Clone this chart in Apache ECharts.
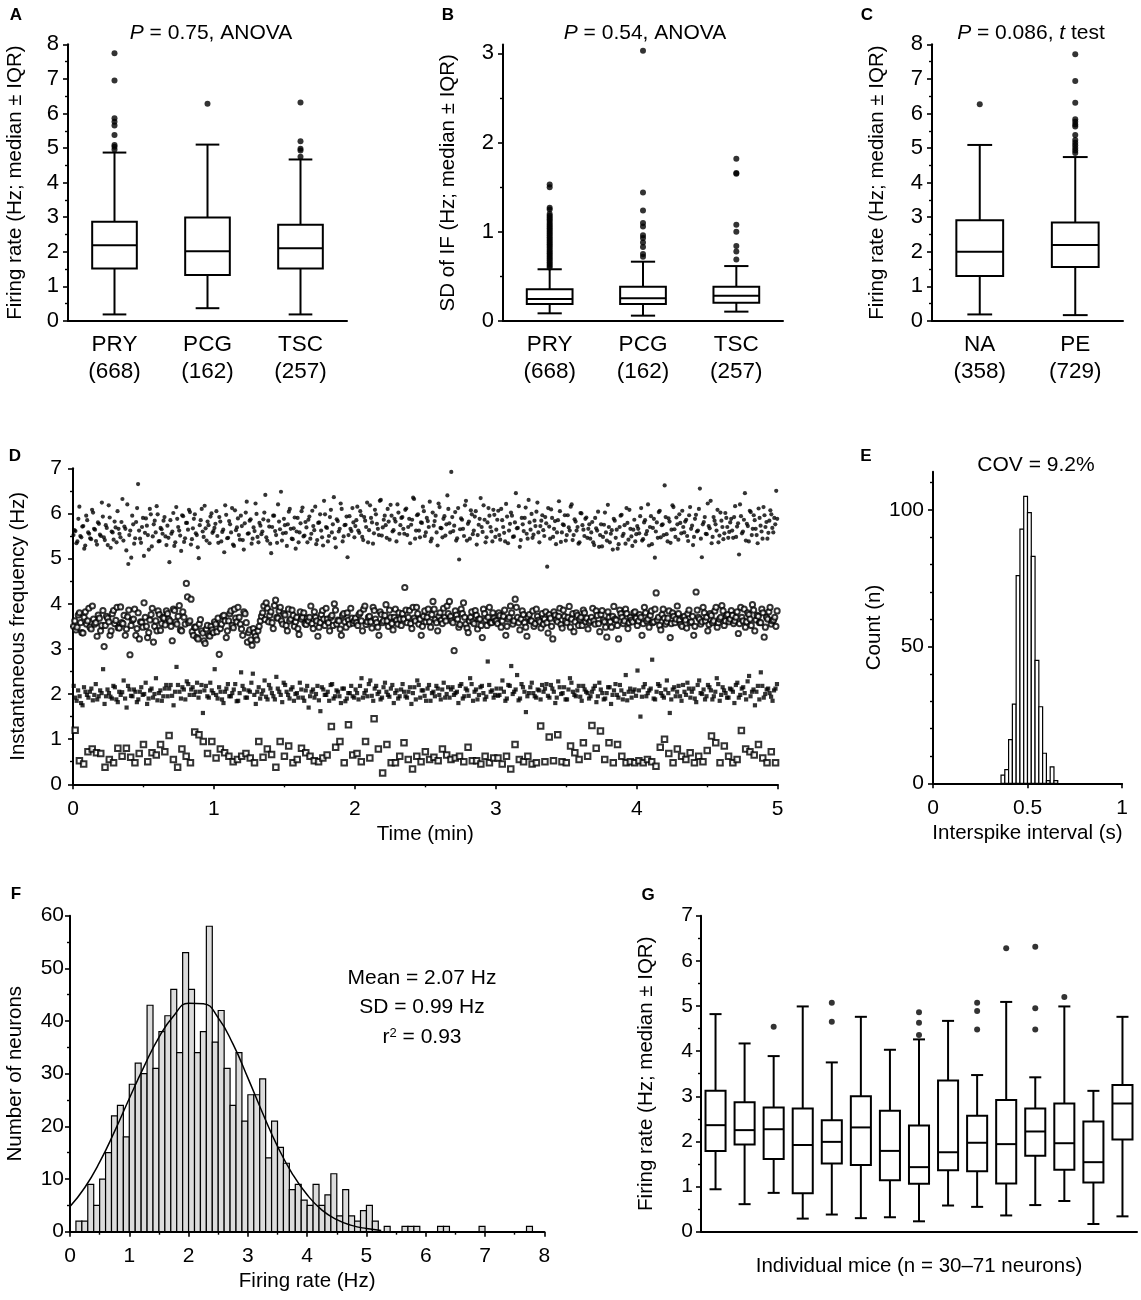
<!DOCTYPE html>
<html>
<head>
<meta charset="utf-8">
<script src="https://cdn.jsdelivr.net/npm/echarts@6.0.0/dist/echarts.min.js"></script>
<style>
  html, body { margin: 0; padding: 0; background: #fff; }
  #main { width: 1141px; height: 1300px; }
</style>
</head>
<body>
<div id="main"></div>
<script>
// ---- data ----

// A: firing rate by region, [min, Q1, median, Q3, max]
var regionCats = ['PRY\n(668)', 'PCG\n(162)', 'TSC\n(257)'];
var regionRate = [[0.19, 1.52, 2.19, 2.87, 4.87], [0.37, 1.33, 2.02, 2.99, 5.10], [0.19, 1.52, 2.10, 2.78, 4.67]];
var regionRateOut = [[7.74, 6.95, 5.86, 5.76, 5.65, 5.38, 5.09, 5.04, 4.96], [6.28], [6.32, 5.20, 4.98, 4.93, 4.75]];

// B: SD of instantaneous frequency by region
var regionSd = [[0.086, 0.19, 0.247, 0.355, 0.58], [0.06, 0.19, 0.254, 0.385, 0.665], [0.105, 0.205, 0.284, 0.385, 0.616]];
var regionSdOut = [
  [0.60, 0.62, 0.64, 0.66, 0.68, 0.70, 0.72, 0.74, 0.76, 0.78, 0.80, 0.82, 0.84, 0.86, 0.88, 0.90, 0.92, 0.94,
   0.96, 0.98, 1.00, 1.02, 1.04, 1.06, 1.08, 1.10, 1.12, 1.14, 1.16, 1.18, 1.20, 1.25, 1.27, 1.50, 1.53],
  [3.03, 1.44, 1.24, 1.10, 1.06, 0.96, 0.93, 0.88, 0.83, 0.75, 0.72],
  [1.82, 1.66, 1.65, 1.08, 1.00, 0.84, 0.78, 0.69]
];

// C: firing rate NA vs PE
var groupCats = ['NA\n(358)', 'PE\n(729)'];
var groupRate = [[0.19, 1.30, 2.00, 2.91, 5.09], [0.17, 1.56, 2.20, 2.85, 4.74]];
var groupRateOut = [[6.27], [7.71, 6.94, 6.31, 5.83, 5.76, 5.68, 5.62, 5.38, 5.23, 5.15, 5.08, 5.00, 4.93, 4.86]];

// D: instantaneous frequency (Hz) of four example neurons over a 5-min recording.
// The "A"/"B" arrays are alternate spikes of the same neuron.
var recordMinutes = 5;
var ifFilledCircleA = [
  5.52,5.61,5.38,6.15,5.47,5.72,5.29,5.85,5.55,5.43,6.02,5.64,5.31,5.77,5.50,5.93,5.41,5.68,6.18,5.24,5.58,5.82,5.36,5.66,
  5.47,6.32,5.71,5.18,4.88,5.62,5.95,5.33,5.81,6.65,5.44,5.70,5.06,5.89,5.52,6.10,5.27,5.76,5.58,5.98,5.39,5.65,5.84,5.49,
  5.73,4.92,5.55,6.01,5.36,5.88,5.62,5.17,5.94,5.45,5.79,6.08,5.31,5.67,5.98,5.52,5.01,5.85,5.60,6.17,5.40,5.74,5.93,5.57,
  5.68,6.05,5.35,5.82,5.59,5.14,5.97,5.46,5.76,6.12,5.28,5.63,5.89,5.42,5.72,5.20,6.02,5.55,5.84,5.33,5.69,6.22,5.48,5.79,
  5.54,5.87,6.41,5.40,5.71,5.12,5.95,5.61,5.35,5.82,6.48,5.56,5.74,5.28,6.04,5.66,5.43,5.91,5.60,5.36,5.78,6.13,5.51,5.69,
  5.86,5.44,6.06,5.63,5.32,5.79,5.98,5.47,6.28,5.70,5.38,5.92,5.58,6.36,5.25,5.83,5.66,6.10,5.49,5.75,5.03,5.94,5.61,5.80,
  5.72,6.15,5.57,5.96,5.41,5.84,6.24,5.63,5.90,5.33,6.08,5.77,5.52,6.30,5.69,5.95,5.46,5.82,6.19,5.60,5.88,5.38,6.02,5.74,
  5.92,5.55,6.11,5.70,5.34,5.86,6.32,5.62,5.98,5.47,5.79,6.05,5.58,5.83,6.26,5.44,5.73,5.95,5.29,6.14,5.67,5.88,5.51,6.40,
  5.78,6.92,5.61,6.03,5.45,4.98,5.89,5.66,6.18,5.40,5.82,6.07,5.54,5.93,5.31,5.75,6.34,5.59,5.86,5.47,6.12,5.70,5.38,5.97,
  5.64,6.06,5.42,5.85,5.57,6.21,5.34,5.77,5.95,5.49,6.45,5.68,5.26,5.90,5.61,6.13,5.44,5.80,5.99,5.53,5.72,6.24,5.36,5.84,
  5.63,5.92,4.82,5.71,6.09,5.48,5.83,5.58,6.27,5.37,5.76,5.96,5.52,5.69,6.15,5.41,5.87,5.62,5.33,6.01,5.74,5.50,5.91,5.66,
  5.44,5.81,5.30,5.67,6.04,5.52,5.27,5.75,5.58,6.19,5.36,5.63,5.88,5.46,5.22,5.70,5.97,5.55,5.33,5.79,6.08,5.49,5.64,5.38,
  5.72,5.56,6.12,5.43,5.85,5.61,5.29,5.94,5.68,5.02,5.80,6.03,5.47,5.76,6.62,5.54,5.89,5.35,6.18,5.65,5.91,5.42,5.79,6.06,
  5.58,5.86,5.39,6.14,5.73,5.48,5.97,5.62,6.55,5.03,5.81,5.55,6.22,5.67,5.34,5.92,5.76,6.08,5.51,5.84,5.43,6.01,5.70,5.59,
  5.88,5.46,6.16,5.71,5.09,5.94,5.60,6.45,5.77,5.38,6.03,5.66,5.85,5.52,6.11,5.73,5.44,5.96,5.81,5.57,6.07,5.68,5.90,6.50
];
var ifFilledCircleB = [
  5.63,5.34,5.88,5.50,5.71,5.22,5.95,5.58,5.45,6.08,5.66,5.39,5.80,5.53,6.24,5.47,5.74,5.30,5.91,5.60,5.42,5.69,6.05,5.55,
  5.81,5.40,5.66,6.20,5.52,5.02,5.76,5.45,6.12,5.62,5.35,5.90,5.57,5.73,5.20,5.98,5.49,5.84,6.16,5.38,5.68,5.55,5.92,5.30,
  5.46,5.85,5.60,5.28,6.14,5.70,5.51,5.96,5.37,5.79,5.64,6.03,5.43,5.88,5.56,5.25,5.74,6.10,5.48,5.67,5.82,5.34,6.00,5.61,
  5.77,5.50,5.92,5.38,5.64,6.18,5.45,5.83,5.58,5.31,6.07,5.69,5.52,5.95,5.41,5.78,6.26,5.56,5.87,5.44,5.61,5.99,5.36,5.73,
  5.60,6.02,5.47,5.84,5.33,5.70,5.95,5.52,6.20,5.65,5.40,5.88,5.57,5.76,6.10,5.44,5.67,5.22,5.90,5.58,6.05,5.49,5.81,5.36,
  5.93,5.55,5.72,6.15,5.41,5.80,5.62,5.29,5.98,5.68,5.50,6.08,5.76,5.45,5.87,5.60,6.22,5.38,5.74,5.93,5.52,5.66,6.12,5.47,
  5.85,5.62,6.05,5.48,5.92,5.70,5.36,6.18,5.80,5.56,5.98,5.66,6.28,5.51,5.86,5.74,6.10,5.42,5.95,5.63,5.82,6.20,5.55,5.90,
  5.66,6.08,5.52,5.88,5.75,6.35,5.44,5.96,5.62,5.80,6.15,5.50,5.90,5.70,5.38,6.02,5.83,5.58,6.22,5.68,5.47,5.94,5.76,6.10,
  5.58,5.92,5.73,5.40,6.12,5.65,5.86,5.50,6.28,5.77,5.44,5.98,5.62,6.05,5.52,5.88,5.70,6.18,5.36,5.80,5.95,5.60,6.08,5.48,
  5.86,5.52,6.10,5.70,5.38,5.93,5.62,6.02,5.48,5.80,5.67,6.16,5.41,5.76,5.90,5.55,6.30,5.64,5.46,5.84,6.04,5.58,5.72,5.96,
  5.50,5.78,6.12,5.44,5.90,5.66,5.32,5.85,6.05,5.58,5.74,5.40,5.96,5.62,6.20,5.52,5.82,5.70,5.36,6.00,5.64,5.88,5.46,5.76,
  5.58,5.36,5.90,5.62,5.26,5.76,5.48,6.02,5.40,5.70,5.55,5.20,5.84,5.64,5.32,5.95,5.50,5.74,6.12,5.42,5.66,5.28,5.86,5.54,
  5.66,5.94,5.40,5.80,5.54,6.20,5.70,5.32,5.88,5.60,5.46,6.06,5.74,5.52,5.92,5.38,5.82,5.64,6.14,5.48,5.76,5.98,5.56,5.70,
  5.82,5.50,5.96,5.66,5.30,5.88,5.60,6.10,5.44,5.76,5.92,5.54,5.72,6.28,5.48,5.84,5.62,5.36,6.02,5.70,5.56,5.90,5.46,5.80,
  5.62,5.92,5.48,5.78,6.20,5.56,5.86,5.40,5.72,6.06,5.52,5.96,5.66,5.34,5.90,5.60,6.14,5.70,5.44,5.84,5.98,5.58,5.76,5.88
];
var ifOpenCircleA = [
  3.50,3.42,3.75,3.58,3.35,3.82,3.62,3.48,3.95,3.55,3.28,3.68,3.52,3.05,3.72,3.60,3.40,3.85,3.63,3.47,
  3.93,3.56,3.30,3.71,2.87,3.64,3.88,3.45,3.22,3.59,4.02,3.50,3.36,3.76,3.15,3.62,3.84,3.41,3.70,3.53,
  3.78,3.62,3.18,3.85,3.55,3.96,3.40,3.70,4.45,3.58,4.10,3.30,3.48,3.22,3.65,3.35,3.12,3.52,3.28,3.42,
  3.60,3.38,2.88,3.55,3.74,3.25,3.62,3.84,3.47,3.68,3.92,3.55,3.30,3.78,3.15,3.42,3.08,3.36,3.20,3.50,
  3.72,3.95,4.02,3.60,3.82,3.45,4.08,3.68,3.92,3.55,3.75,3.40,3.62,3.86,3.50,3.70,3.32,3.66,3.80,3.54,
  3.62,3.95,3.45,3.70,3.28,3.58,3.85,3.52,3.66,3.40,3.74,4.00,3.55,3.62,3.30,3.78,3.48,3.64,3.90,3.57,
  3.68,3.52,3.80,3.40,3.95,3.60,3.72,3.46,3.85,3.58,3.30,3.76,3.62,3.98,3.50,3.70,3.42,3.88,3.55,3.66,
  3.78,4.36,3.58,3.85,3.45,3.68,3.92,3.55,3.30,3.72,3.60,3.88,3.48,4.05,3.65,3.40,3.80,3.56,3.70,3.95,
  4.05,3.62,2.96,3.75,3.48,3.88,4.02,3.55,3.36,3.70,3.60,3.85,3.44,3.66,3.25,3.78,3.52,3.92,3.58,3.68,
  3.62,3.80,3.48,3.72,3.30,3.66,3.95,3.55,4.10,3.70,3.42,3.84,3.58,3.28,3.76,3.62,3.50,3.88,3.64,3.46,
  3.55,3.82,3.35,3.68,3.22,3.75,3.60,3.90,3.46,3.72,3.58,3.94,3.66,3.38,3.80,3.52,3.70,3.86,3.60,3.44,
  3.62,3.90,3.55,3.74,3.38,3.85,3.60,3.26,3.70,3.48,3.94,3.64,3.22,3.78,3.56,3.88,3.45,3.70,3.60,3.82,
  3.52,3.76,3.30,3.92,3.62,3.48,3.84,3.60,4.24,3.70,3.42,3.88,3.55,3.68,3.25,3.80,3.58,3.95,3.64,3.50,
  3.72,3.46,3.86,3.60,3.30,4.26,3.70,3.55,3.92,3.62,3.40,3.78,3.58,3.84,3.48,3.66,3.96,3.52,3.74,3.60,
  3.85,3.56,3.70,3.34,3.92,3.62,3.48,3.80,3.66,3.98,3.40,3.74,3.58,3.88,3.26,3.70,3.82,3.55,3.64,3.50
];
var ifOpenCircleB = [
  3.62,3.48,3.80,3.36,3.70,3.55,3.90,3.44,3.66,3.58,3.75,3.40,3.85,3.52,3.68,3.30,3.78,3.56,3.92,3.46,
  3.58,3.74,3.44,3.86,3.52,3.66,3.30,3.80,3.60,3.48,3.70,3.25,3.64,3.90,3.50,3.40,3.76,3.56,3.68,3.84,
  3.66,3.50,3.88,3.60,3.72,3.42,3.82,3.55,4.15,3.62,3.38,3.48,3.25,3.55,3.40,3.18,3.44,3.30,3.50,3.36,
  3.55,3.68,3.45,3.72,3.62,3.40,3.78,3.52,3.88,3.60,3.70,3.44,3.82,3.58,3.36,3.20,3.45,3.28,3.40,3.62,
  3.80,3.65,3.90,3.74,3.58,3.96,3.70,3.84,3.62,3.78,3.52,3.88,3.66,3.74,3.60,3.45,3.82,3.70,3.56,3.68,
  3.70,3.56,3.82,3.62,3.48,3.76,3.66,3.90,3.58,3.70,3.52,3.86,3.64,3.44,3.74,3.60,3.80,3.55,3.68,3.62,
  3.58,3.76,3.62,3.88,3.54,3.70,3.60,3.92,3.66,3.48,3.82,3.58,3.74,3.62,3.86,3.56,3.70,3.64,3.80,3.52,
  3.66,3.86,3.70,3.56,3.92,3.62,3.78,3.66,3.50,3.84,3.70,3.60,3.76,3.88,3.58,3.72,3.64,3.90,3.62,3.78,
  3.72,3.58,3.84,3.66,3.54,3.78,3.70,3.46,3.62,3.82,3.56,3.74,3.66,3.52,3.88,3.64,3.70,3.58,3.80,3.62,
  3.56,3.74,3.62,3.86,3.50,3.70,3.80,3.62,3.92,3.58,3.66,3.76,3.48,3.70,3.62,3.84,3.56,3.72,3.60,3.78,
  3.66,3.58,3.76,3.50,3.82,3.64,3.72,3.54,3.86,3.62,3.70,3.48,3.78,3.60,3.74,3.66,3.52,3.80,3.68,3.58,
  3.70,3.62,3.84,3.56,3.76,3.64,3.48,3.82,3.60,3.72,3.66,3.52,3.86,3.70,3.62,3.78,3.58,3.64,3.80,3.68,
  3.62,3.70,3.56,3.80,3.66,3.74,3.58,3.88,3.64,3.52,3.76,3.68,3.60,3.84,3.56,3.72,3.66,3.78,3.54,3.70,
  3.64,3.78,3.58,3.72,3.50,3.86,3.66,3.60,3.80,3.70,3.54,3.74,3.62,3.92,3.58,3.70,3.84,3.62,3.76,3.66,
  3.74,3.62,3.82,3.56,3.70,3.88,3.60,3.76,3.52,3.86,3.64,3.72,3.58,3.80,3.48,3.66,3.92,3.62,3.70,3.84
];
var ifFilledSquareA = [
  2.18,1.85,1.95,1.75,2.05,1.92,2.12,1.98,1.88,2.08,2.55,1.95,2.02,1.90,2.15,1.82,
  1.98,2.30,1.70,2.10,1.95,2.05,1.88,2.15,2.00,1.78,2.08,1.92,2.35,2.02,1.85,2.12,
  1.95,2.20,1.75,2.60,2.05,2.15,1.88,2.22,2.10,1.98,2.25,2.05,1.58,2.18,1.92,2.08,
  2.55,1.90,2.05,1.80,2.12,1.95,2.02,2.22,1.85,2.48,2.10,1.92,2.05,2.45,1.78,2.15,
  2.00,2.30,1.88,2.12,1.95,2.38,2.05,1.82,2.20,1.98,2.10,1.85,2.02,2.25,1.92,2.08,
  1.70,2.05,1.92,2.18,1.62,2.10,1.98,1.85,2.22,1.95,2.05,1.80,2.12,1.90,2.02,1.95,
  2.10,1.88,2.35,2.02,1.95,2.30,1.85,2.18,2.05,1.92,2.25,1.98,2.12,1.80,2.08,1.95,
  2.22,1.95,2.05,1.78,2.15,2.30,1.92,2.08,1.85,2.20,2.02,1.95,2.12,1.88,2.25,2.00,
  1.92,2.15,2.02,1.80,2.22,1.95,2.08,2.35,1.85,2.10,1.98,2.18,1.88,2.72,2.05,1.92,
  2.12,1.98,2.30,1.85,2.20,2.62,2.05,2.42,1.90,2.15,1.60,2.02,2.25,1.95,2.10,1.88,
  2.05,2.22,1.92,2.12,1.80,2.28,2.00,2.15,1.88,2.35,2.05,1.95,2.18,1.85,2.10,2.02,
  1.95,2.12,1.82,2.25,2.02,1.90,2.15,1.78,2.08,1.98,2.20,1.88,2.42,2.05,1.92,2.10,
  2.52,1.50,2.15,1.95,2.08,2.76,1.88,2.22,2.02,1.92,2.30,1.58,2.10,1.95,2.18,1.85,
  2.05,2.25,1.92,2.12,1.82,2.30,2.00,1.88,2.20,2.08,1.95,2.35,1.85,2.15,2.02,1.92,
  2.10,1.80,2.25,1.98,2.15,1.88,2.40,2.05,1.75,2.18,2.48,1.92,2.10,2.02,1.85,2.12
];
var ifFilledSquareB = [
  1.92,2.08,1.80,2.15,1.98,2.05,1.86,2.22,1.95,2.02,1.78,2.10,1.94,2.18,1.88,2.05,
  2.04,1.90,2.18,1.96,2.10,1.82,2.05,1.98,2.25,1.90,2.12,2.00,1.86,2.08,1.95,2.20,
  2.12,1.96,2.05,2.20,1.90,2.10,2.28,1.98,2.15,2.05,1.92,2.20,2.08,1.95,2.25,2.02,
  1.98,2.15,1.88,2.05,2.22,1.95,2.10,1.84,2.02,2.18,1.92,2.08,2.25,1.98,2.05,1.90,
  2.08,1.94,2.20,2.02,1.88,2.12,1.98,2.25,2.05,1.90,2.15,2.00,1.92,2.10,1.85,2.18,
  1.95,2.10,2.00,1.86,2.15,1.98,2.05,2.20,1.90,2.08,1.95,2.12,1.84,2.02,2.18,1.92,
  2.02,2.18,1.92,2.08,2.22,1.96,2.12,2.00,1.88,2.15,2.05,1.94,2.20,2.02,1.90,2.10,
  2.05,1.92,2.15,2.02,1.88,2.20,2.08,1.96,2.12,1.85,2.05,2.18,1.98,2.10,1.92,2.15,
  2.10,1.98,2.05,2.18,1.90,2.12,1.96,2.22,2.05,1.88,2.15,2.02,1.94,2.20,2.08,1.98,
  1.96,2.12,2.05,1.90,2.18,2.00,2.10,1.86,2.22,2.05,1.95,2.15,2.02,1.92,2.08,2.20,
  2.12,1.96,2.20,2.05,1.92,2.15,2.02,1.88,2.10,2.25,1.98,2.08,1.94,2.18,2.05,1.90,
  2.05,2.18,1.95,2.10,1.88,2.02,2.15,1.98,2.22,1.92,2.08,2.00,1.86,2.12,2.05,1.96,
  2.08,1.94,2.22,2.02,2.12,1.90,2.05,2.18,1.96,2.10,2.02,1.88,2.15,2.05,1.95,2.20,
  1.98,2.12,2.05,1.90,2.20,2.02,2.10,1.95,2.15,1.88,2.05,2.22,1.98,2.08,1.92,2.12,
  2.05,2.20,1.92,2.12,2.02,2.28,1.95,2.10,2.05,1.88,2.18,2.00,2.12,1.94,2.08,2.22
];
var ifOpenSquare = [
  1.20,0.52,0.45,0.72,0.78,0.70,0.68,0.38,0.55,0.48,0.80,
  0.62,0.80,0.60,0.48,0.68,0.88,0.50,0.70,0.65,0.88,0.72,
  1.08,0.55,0.38,0.78,0.62,0.48,1.16,1.10,0.95,0.68,0.95,
  0.58,0.78,0.70,0.62,0.50,0.55,0.62,0.68,0.58,0.48,0.95,
  0.60,0.78,0.66,0.38,0.95,0.62,0.85,0.48,0.55,0.80,0.70,
  0.62,0.52,0.50,0.58,0.65,1.28,0.82,0.95,0.48,1.32,0.65,
  0.68,0.50,0.95,0.58,1.45,0.78,0.25,0.88,0.48,0.48,0.62,
  0.92,0.55,0.34,0.62,0.50,0.72,0.55,0.60,0.52,0.78,0.65,
  0.55,0.58,0.62,0.50,0.82,0.52,0.52,0.45,0.62,0.48,0.58,
  0.58,0.45,0.62,0.34,0.88,0.55,0.50,0.62,0.45,0.48,1.29,
  0.50,1.05,0.52,1.10,0.50,0.48,0.85,0.70,0.55,0.92,0.62,
  1.30,0.80,1.18,0.55,0.92,0.48,0.88,0.62,0.48,0.50,0.48,
  0.52,0.48,0.55,0.50,0.40,0.82,1.00,0.68,0.48,0.78,0.62,
  0.55,0.70,0.48,0.62,0.50,0.75,1.07,0.92,0.48,0.85,0.62,
  0.48,0.55,1.19,0.78,0.72,0.65,0.88,0.58,0.48,0.72,0.48
];

// E: interspike interval histogram
var isiBinStart = 0.36;
var isiBinWidth = 0.02;
var isiCounts = [3, 5, 16, 29, 76, 93, 105, 99, 83, 45, 28, 11, 1, 6, 1];

// F: firing rate histogram with Gaussian fit
var rateBinStart = 0;
var rateBinWidth = 0.1;
var rateCounts = [
  0, 2, 2, 9, 5, 10, 15, 22, 24, 18,
  28, 32, 30, 43, 31, 38, 41, 46, 34, 53,
  46, 34, 38, 58, 36, 42, 31, 24, 34, 21,
  26, 26, 29, 14, 21, 16, 13, 8, 9, 6,
  5, 9, 5, 7, 11, 3, 8, 3, 2, 4,
  5, 2, 0, 1, 0, 0, 1, 1, 1, 0,
  0, 0, 1, 1, 0, 0, 0, 0, 0, 1,
  0, 0, 0, 0, 0, 0, 0, 1, 0, 0
];
var fitX = [0, 0.25, 0.5, 0.75, 1, 1.25, 1.5, 1.75, 2, 2.25, 2.5, 2.75, 3, 3.25, 3.5, 3.75, 4, 4.25, 4.5, 4.75, 5, 5.25];
var fitY = [4.8, 8.4, 13.2, 19.0, 25.3, 31.4, 36.9, 41.0, 43.4, 43.3, 40.6, 35.6, 29.2, 22.5, 16.2, 11.0, 7.0, 4.1, 2.3, 1.2, 0.6, 0.25];

// G: firing rate per mouse
var miceRate = [
  [0.94, 1.79, 2.36, 3.12, 4.82], [0.61, 1.93, 2.25, 2.87, 4.17], [0.86, 1.61, 2.27, 2.75, 3.89],
  [0.29, 0.85, 1.92, 2.73, 4.99], [0.38, 1.51, 1.99, 2.47, 3.75], [0.30, 1.48, 2.31, 3.00, 4.76],
  [0.32, 1.14, 1.79, 2.68, 4.03], [0.23, 1.06, 1.43, 2.35, 4.26], [0.58, 1.36, 1.76, 3.35, 4.67],
  [0.55, 1.34, 1.97, 2.57, 3.47], [0.36, 1.07, 1.94, 2.92, 5.09], [0.59, 1.68, 2.22, 2.73, 3.42],
  [0.68, 1.37, 1.96, 2.84, 4.99], [0.17, 1.09, 1.54, 2.44, 3.12], [0.34, 2.04, 2.84, 3.25, 4.76]
];
var miceRateOut = [[], [], [4.54], [], [5.07, 4.65], [], [], [4.86, 4.63, 4.36], [], [5.07, 4.89, 4.48],
  [6.28], [6.31, 4.95, 4.48], [5.20], [], []];
var miceCats = miceRate.map(function (d, i) { return 'M' + (i + 1); });

// tick values for the two axes whose top is not a round number
var sdTicks = [0, 1, 2, 3];
var sdMinorTicks = [0.5, 1.5, 2.5];
var countTicks = [0, 50, 100];
var countMinorTicks = [10, 20, 30, 40, 60, 70, 80, 90, 110];

// ---- chart ----
var FONT = '"Liberation Sans", Arial, sans-serif';
var BLACK = '#000';
var TICK_FONT = 21;

var chart = echarts.init(document.getElementById('main'), null, { renderer: 'canvas' });

function axisBase(gridIndex) {
  return {
    gridIndex: gridIndex,
    axisLine: { show: true, lineStyle: { color: BLACK, width: 2 } },
    axisTick: { show: true, length: 5, lineStyle: { color: BLACK, width: 1.6 } },
    axisLabel: { color: BLACK, fontFamily: FONT, fontSize: TICK_FONT, margin: 9 },
    splitLine: { show: false },
    nameLocation: 'middle',
    nameTextStyle: { color: BLACK, fontFamily: FONT, fontSize: 20.5 }
  };
}

function valueAxis(gridIndex, min, max, interval, name, nameGap, labelMargin, labelSize) {
  var a = axisBase(gridIndex);
  a.type = 'value';
  a.min = min;
  a.max = max;
  if (interval) a.interval = interval;
  a.minorTick = { show: true, splitNumber: 2, length: 3, lineStyle: { color: BLACK, width: 1.4 } };
  if (name) { a.name = name; a.nameGap = nameGap; }
  if (labelMargin !== undefined) a.axisLabel.margin = labelMargin;
  if (labelSize) a.axisLabel.fontSize = labelSize;
  return a;
}

function categoryAxis(gridIndex, cats) {
  var a = axisBase(gridIndex);
  a.type = 'category';
  a.data = cats;
  a.axisTick = { show: false };
  a.axisLabel = { color: BLACK, fontFamily: FONT, fontSize: 22.5, lineHeight: 27, margin: 10, interval: 0 };
  return a;
}

function minorOnlyAxis(gridIndex, min, max, values) {
  return {
    type: 'value', gridIndex: gridIndex, min: min, max: max, position: 'left',
    axisLine: { show: false }, axisLabel: { show: false }, splitLine: { show: false },
    axisTick: { show: true, length: 3, customValues: values, lineStyle: { color: BLACK, width: 1.4 } }
  };
}

function boxRenderer(boxRatio, capRatio) {
  return function (params, api) {
    var i = api.value(0);
    var half = api.size([1, 0])[0] * boxRatio / 2;
    var cap = half * capRatio;
    var cx = api.coord([i, 0])[0];
    var y = [1, 2, 3, 4, 5].map(function (d) { return api.coord([i, api.value(d)])[1]; });
    var ls = { stroke: BLACK, lineWidth: 2 };
    return {
      type: 'group',
      children: [
        { type: 'line', shape: { x1: cx, y1: y[4], x2: cx, y2: y[3] }, style: ls },
        { type: 'line', shape: { x1: cx, y1: y[1], x2: cx, y2: y[0] }, style: ls },
        { type: 'line', shape: { x1: cx - cap, y1: y[4], x2: cx + cap, y2: y[4] }, style: ls },
        { type: 'line', shape: { x1: cx - cap, y1: y[0], x2: cx + cap, y2: y[0] }, style: ls },
        { type: 'rect', shape: { x: cx - half, y: y[3], width: 2 * half, height: y[1] - y[3] },
          style: { fill: '#fff', stroke: BLACK, lineWidth: 2 } },
        { type: 'line', shape: { x1: cx - half, y1: y[2], x2: cx + half, y2: y[2] }, style: ls }
      ]
    };
  };
}

function boxSeries(axisIdx, stats, boxRatio, capRatio) {
  return {
    type: 'custom', xAxisIndex: axisIdx, yAxisIndex: axisIdx, silent: true, z: 2,
    renderItem: boxRenderer(boxRatio, capRatio),
    encode: { x: 0, y: [1, 2, 3, 4, 5] },
    data: stats.map(function (s, i) { return [i].concat(s); })
  };
}

function outlierSeries(axisIdx, outliers, size) {
  var pts = [];
  outliers.forEach(function (list, i) { list.forEach(function (v) { pts.push([i, v]); }); });
  return {
    type: 'scatter', xAxisIndex: axisIdx, yAxisIndex: axisIdx, silent: true, z: 3,
    symbol: 'circle', symbolSize: size, itemStyle: { color: BLACK }, data: pts
  };
}

// merge alternate spikes back into one time-ordered train
function interleave(a, b) {
  var out = [];
  for (var i = 0; i < Math.max(a.length, b.length); i++) {
    if (i < a.length) out.push(a[i]);
    if (i < b.length) out.push(b[i]);
  }
  return out;
}

// spikes are spread evenly across the recording
function traceSeries(values, symbol, size) {
  var n = values.length;
  var empty = symbol.indexOf('empty') === 0;
  return {
    type: 'scatter', xAxisIndex: 3, yAxisIndex: 3, silent: true,
    symbol: symbol, symbolSize: size,
    itemStyle: { color: BLACK, borderColor: BLACK, borderWidth: empty ? 1 : 0 },
    data: values.map(function (v, i) { return [(i + 0.5) * recordMinutes / n, v]; })
  };
}

function histSeries(axisIdx, start, width, counts, fill) {
  return {
    type: 'custom', xAxisIndex: axisIdx, yAxisIndex: axisIdx, silent: true, z: 2,
    encode: { x: 0, y: 1 },
    data: counts.map(function (c, i) { return [start + i * width, c]; }),
    renderItem: function (params, api) {
      var x0 = api.value(0), c = api.value(1);
      if (!c) return null;
      var p0 = api.coord([x0, c]);
      var p1 = api.coord([x0 + width, 0]);
      return {
        type: 'rect',
        shape: { x: p0[0], y: p0[1], width: p1[0] - p0[0], height: p1[1] - p0[1] },
        style: { fill: fill, stroke: BLACK, lineWidth: 1.2 }
      };
    }
  };
}

function text(x, y, str, size, bold) {
  return {
    type: 'text', x: x, y: y, silent: true,
    style: {
      text: str, align: 'center', verticalAlign: 'middle', fill: BLACK,
      fontFamily: FONT, fontSize: size, fontWeight: bold ? 'bold' : 'normal',
      rich: {
        i: { fontStyle: 'italic', fontFamily: FONT, fontSize: size, fill: BLACK },
        n: { fontFamily: FONT, fontSize: size, fill: BLACK },
        s: { fontFamily: FONT, fontSize: 13, fill: BLACK, verticalAlign: 'top' }
      }
    }
  };
}

var yRateName = 'Firing rate (Hz; median ± IQR)';

var option = {
  animation: false,
  backgroundColor: '#fff',
  grid: [
    { left: 68, top: 44.3, width: 279, height: 276.7 },
    { left: 503, top: 44.5, width: 280, height: 276.5 },
    { left: 932, top: 44.3, width: 191, height: 276.7 },
    { left: 70, top: 468.3, width: 707.7, height: 316 },
    { left: 933, top: 471.7, width: 189, height: 311.6 },
    { left: 70, top: 915.7, width: 474.3, height: 316 },
    { left: 701, top: 915.7, width: 436, height: 316 }
  ],
  xAxis: [
    categoryAxis(0, regionCats),
    categoryAxis(1, regionCats),
    categoryAxis(2, groupCats),
    valueAxis(3, 0, 5, 1, 'Time (min)', 40, 14),
    (function () { var a = valueAxis(4, 0, 1, 0.5, 'Interspike interval (s)', 40, 14); a.minorTick.show = false; return a; })(),
    valueAxis(5, 0, 8, 1, 'Firing rate (Hz)', 39, 14),
    (function () {
      var a = categoryAxis(6, miceCats);
      a.axisLabel = { show: false };
      a.name = 'Individual mice (n = 30\u201371 neurons)';
      a.nameGap = 24;
      return a;
    })()
  ],
  yAxis: [
    valueAxis(0, 0, 8, 1, yRateName, 42, 9, 22),
    (function () {
      var a = valueAxis(1, 0, 3.1, null, 'SD of IF (Hz; median ± IQR)', 44, 9, 22);
      a.minorTick = { show: false };
      a.axisTick.customValues = sdTicks;
      a.axisLabel.customValues = sdTicks;
      return a;
    })(),
    valueAxis(2, 0, 8, 1, yRateName, 44, 9, 22),
    valueAxis(3, 0, 7, 1, 'Instantaneous frequency (Hz)', 44, 11),
    (function () {
      var a = valueAxis(4, 0, 114, null, 'Count (n)', 48, 9);
      a.minorTick = { show: false };
      a.axisTick.customValues = countTicks;
      a.axisLabel.customValues = countTicks;
      return a;
    })(),
    valueAxis(5, 0, 60, 10, 'Number of neurons', 44, 6),
    valueAxis(6, 0, 7, 1, yRateName, 44, 8),
    minorOnlyAxis(1, 0, 3.1, sdMinorTicks),
    minorOnlyAxis(4, 0, 114, countMinorTicks)
  ],
  series: [
    boxSeries(0, regionRate, 0.48, 0.53),
    outlierSeries(0, regionRateOut, 6),
    boxSeries(1, regionSd, 0.49, 0.53),
    outlierSeries(1, regionSdOut, 6),
    boxSeries(2, groupRate, 0.49, 0.53),
    outlierSeries(2, groupRateOut, 6),
    traceSeries(interleave(ifFilledCircleA, ifFilledCircleB), 'circle', 4.2),
    traceSeries(interleave(ifOpenCircleA, ifOpenCircleB), 'emptyCircle', 5.2),
    traceSeries(interleave(ifFilledSquareA, ifFilledSquareB), 'rect', 4.2),
    traceSeries(ifOpenSquare, 'emptyRect', 5.5),
    histSeries(4, isiBinStart, isiBinWidth, isiCounts, '#fff'),
    histSeries(5, rateBinStart, rateBinWidth, rateCounts, '#dcdcdc'),
    {
      type: 'line', xAxisIndex: 5, yAxisIndex: 5, silent: true, z: 4,
      smooth: true, showSymbol: false, symbol: 'none',
      lineStyle: { color: BLACK, width: 1.5 },
      data: fitX.map(function (x, i) { return [x, fitY[i]]; })
    },
    boxSeries(6, miceRate, 0.69, 0.6),
    outlierSeries(6, miceRateOut, 6)
  ],
  graphic: [
    text(16, 15, 'A', 17, true),
    text(448, 15, 'B', 17, true),
    text(867, 15, 'C', 17, true),
    text(15, 456, 'D', 17, true),
    text(866, 456, 'E', 17, true),
    text(16, 894, 'F', 17, true),
    text(648, 895, 'G', 17, true),
    text(211, 33, '{i|P} = 0.75, ANOVA', 21),
    text(645, 33, '{i|P} = 0.54, ANOVA', 21),
    text(1031, 33, '{i|P} = 0.086, {i|t} test', 21),
    text(1036, 465, 'COV = 9.2%', 21),
    text(422, 978, 'Mean = 2.07 Hz', 21),
    text(422, 1007, 'SD = 0.99 Hz', 21),
    text(422, 1037, '{n|r}{s|2}{n| = 0.93}', 21)
  ]
};

chart.setOption(option);
</script>
</body>
</html>
